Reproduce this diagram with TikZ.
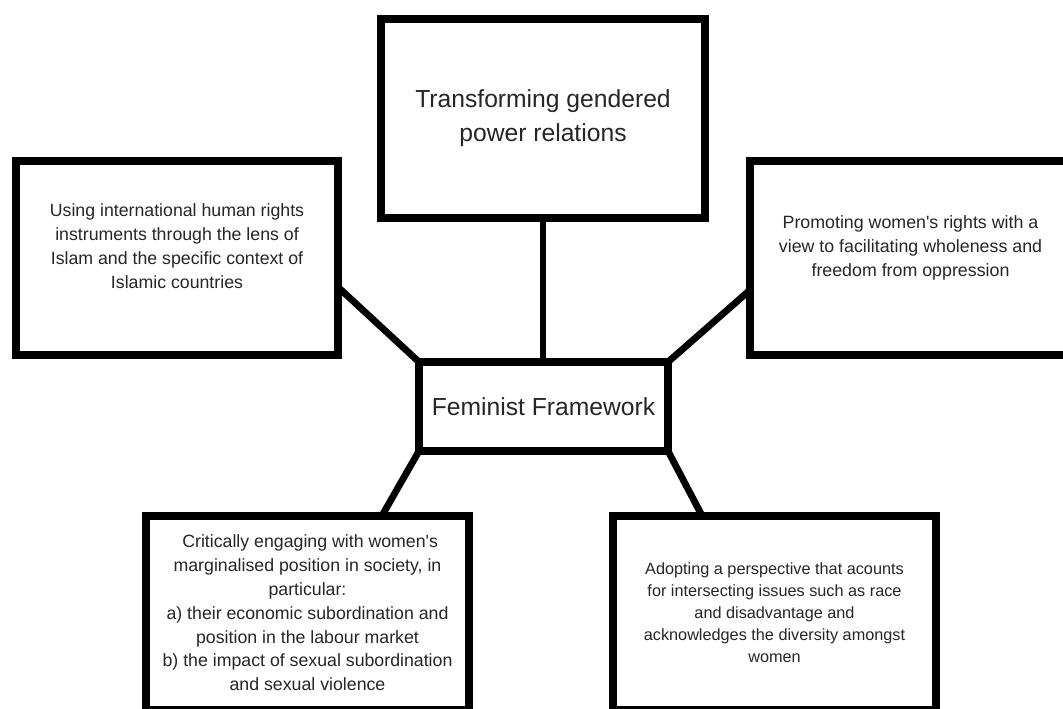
\documentclass[tikz,border=0pt]{standalone}
\usepackage{fontspec}
\setmainfont{Liberation Sans}
\usetikzlibrary{calc}
\newdimen\pxu \pxu=0.75pt
\pgfdeclarelayer{bg}
\pgfsetlayers{bg,main}
\begin{document}
\begin{tikzpicture}[x=0.75pt,y=-0.75pt,
  box/.style={draw=black,line width=8\pxu,fill=white,rectangle,inner sep=0pt,outer sep=0pt},
  conn/.style={draw=black,line width=6.8\pxu},
  txt/.style={align=center,text=black!85,inner sep=0pt}]
\useasboundingbox (0,0) rectangle (1063,709);
\clip (0,0) rectangle (1063,709);

% boxes
\node[box,txt,minimum width=324\pxu,minimum height=199\pxu,font=\fontsize{18.5}{25.5}\selectfont] (top) at (543,118.5)
  {Transforming gendered\\power relations};
\node[box,minimum width=322\pxu,minimum height=194\pxu] (lb) at (177,258) {};
\node[txt,font=\fontsize{13.3}{18}\selectfont] (lbt) at ([yshift=9pt]lb.center)
  {Using international human rights\\instruments through the lens of\\Islam and the specific context of\\Islamic countries};
\node[box,minimum width=321\pxu,minimum height=194\pxu] (rb) at (910.5,258) {};
\node[txt,font=\fontsize{13.35}{17.8}\selectfont] (rbt) at ([yshift=7.5pt]rb.center)
  {Promoting women\textquotesingle s rights with a\\view to facilitating wholeness and\\freedom from oppression};
\node[box,txt,minimum width=249\pxu,minimum height=89\pxu,font=\fontsize{18.5}{24}\selectfont] (ff) at (543.5,406.5)
  {Feminist Framework};
\node[box,txt,minimum width=323\pxu,minimum height=194\pxu,font=\fontsize{13.3}{17.85}\selectfont] (bl) at (307.5,613)
  {\hspace*{0.3em}Critically engaging with women\textquotesingle s\\marginalised position in society, in\\particular:\\a) their economic subordination and\\position in the labour market\\b) the impact of sexual subordination\\and sexual violence};
\node[box,txt,minimum width=323\pxu,minimum height=194\pxu,font=\fontsize{12.2}{16.5}\selectfont] (br) at (774.5,613)
  {Adopting a perspective that acounts\\for intersecting issues such as race\\and disadvantage and\\acknowledges the diversity amongst\\women};

% connectors and background
\begin{pgfonlayer}{bg}
\fill[white] (0,0) rectangle (1063,709);
\draw[conn] (top.south) -- (top.south |- ff.north);
\draw[conn] ($(lb.north east)!0.65!(lb.south east)$) -- (ff.north west);
\draw[conn] ($(rb.north west)!0.665!(rb.south west)$) -- (ff.north east);
\draw[conn] (ff.south west) -- ($(bl.north west)!0.73!(bl.north east)$);
\draw[conn] (ff.south east) -- ($(br.north west)!0.276!(br.north east)$);
\end{pgfonlayer}
\end{tikzpicture}
\end{document}
